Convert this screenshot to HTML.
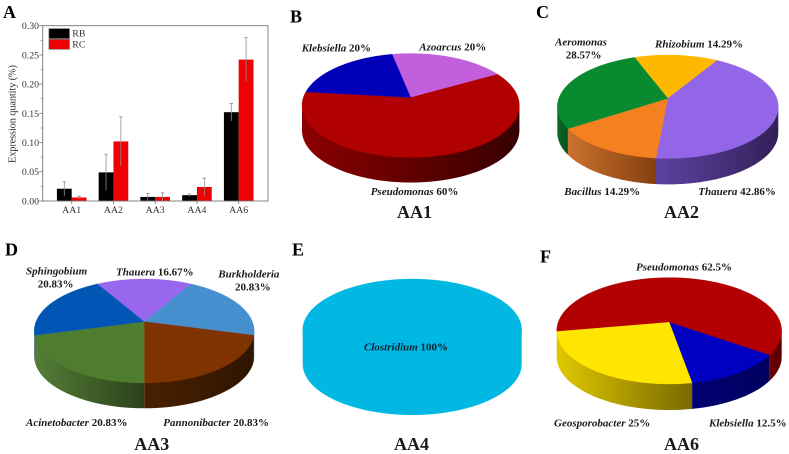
<!DOCTYPE html>
<html lang="en">
<head>
<meta charset="utf-8">
<title>Expression quantity and genus composition</title>
<style>
html,body{margin:0;padding:0;background:#fff;width:789px;height:454px;overflow:hidden}
svg{display:block;filter:blur(.35px)}
text{font-family:"Liberation Serif",serif}
.panel{font-size:18px;font-weight:bold;fill:#000}
.lab{font-size:11px;font-weight:bold;fill:#1a1a1a}
.lab .g{font-style:italic}
.title{font-size:18px;font-weight:bold;fill:#1a1a1a}
.tick{font-size:9.8px;fill:#333}
</style>
</head>
<body>
<svg id="figure" width="789" height="454" viewBox="0 0 789 454" xmlns="http://www.w3.org/2000/svg">
  <defs id="grads"></defs>
  <g id="bar-chart"></g>
  <g id="pies"></g>

  <text class="panel" x="3" y="18">A</text>
  <text class="panel" x="290" y="22.5">B</text>
  <text class="panel" x="536" y="18">C</text>
  <text class="panel" x="5" y="255.5">D</text>
  <text class="panel" x="292" y="255.5">E</text>
  <text class="panel" x="540" y="262.5">F</text>

  <text class="tick" x="0" y="0" transform="translate(15.5,163) rotate(-90)" style="font-size:10.5px" textLength="98">Expression quantity (%)</text>

  <text class="lab" x="301.7" y="51.7"><tspan class="g">Klebsiella</tspan> 20%</text>
  <text class="lab" x="419.3" y="50.7"><tspan class="g">Azoarcus</tspan> 20%</text>
  <text class="lab" x="370.7" y="195"><tspan class="g">Pseudomonas</tspan> 60%</text>
  <text class="title" x="397" y="218">AA1</text>

  <text class="lab" x="555" y="45.7"><tspan class="g">Aeromonas</tspan></text>
  <text class="lab" x="565.7" y="58.7">28.57%</text>
  <text class="lab" x="655" y="47.7"><tspan class="g">Rhizobium</tspan> 14.29%</text>
  <text class="lab" x="564.3" y="195"><tspan class="g">Bacillus</tspan> 14.29%</text>
  <text class="lab" x="698.3" y="195"><tspan class="g">Thauera</tspan> 42.86%</text>
  <text class="title" x="664" y="218">AA2</text>

  <text class="lab" x="26" y="274.3"><tspan class="g">Sphingobium</tspan></text>
  <text class="lab" x="37.7" y="287.3">20.83%</text>
  <text class="lab" x="116" y="275.7"><tspan class="g">Thauera</tspan> 16.67%</text>
  <text class="lab" x="218.3" y="277.7"><tspan class="g">Burkholderia</tspan></text>
  <text class="lab" x="235" y="290.7">20.83%</text>
  <text class="lab" x="26" y="426"><tspan class="g">Acinetobacter</tspan> 20.83%</text>
  <text class="lab" x="163.3" y="426"><tspan class="g">Pannonibacter</tspan> 20.83%</text>
  <text class="title" x="134.3" y="450">AA3</text>

  <text class="lab" x="364" y="350.3" style="fill:#0a2233"><tspan class="g">Clostridium</tspan> 100%</text>
  <text class="title" x="394" y="450">AA4</text>

  <text class="lab" x="636" y="270.7"><tspan class="g">Pseudomonas</tspan> 62.5%</text>
  <text class="lab" x="554" y="426.7"><tspan class="g">Geosporobacter</tspan> 25%</text>
  <text class="lab" x="709" y="426.7"><tspan class="g">Klebsiella</tspan> 12.5%</text>
  <text class="title" x="664" y="450">AA6</text>
</svg>
<script>
// ---------- Bar chart data ----------
const barCategories = ['AA1', 'AA2', 'AA3', 'AA4', 'AA6'];
const rbValues = [0.021, 0.049, 0.007, 0.010, 0.152];
const rcValues = [0.006, 0.102, 0.007, 0.024, 0.242];
const rbErrors = [0.012, 0.031, 0.006, 0.002, 0.015];
const rcErrors = [0.002, 0.042, 0.007, 0.015, 0.038];
const yTickLabels = ['0.00', '0.05', '0.10', '0.15', '0.20', '0.25', '0.30'];
const legendLabels = ['RB', 'RC'];

// ---------- Pie chart data (clockwise from the first slice) ----------
const aa1Genera = ['Azoarcus', 'Pseudomonas', 'Klebsiella'];
const aa1Shares = [20, 60, 20];
const aa2Genera = ['Rhizobium', 'Thauera', 'Bacillus', 'Aeromonas'];
const aa2Shares = [14.29, 42.86, 14.29, 28.57];
const aa3Genera = ['Thauera', 'Burkholderia', 'Pannonibacter', 'Acinetobacter', 'Sphingobium'];
const aa3Shares = [16.67, 20.83, 20.83, 20.83, 20.83];
const aa4Genera = ['Clostridium'];
const aa4Shares = [100];
const aa6Genera = ['Pseudomonas', 'Klebsiella', 'Geosporobacter'];
const aa6Shares = [62.5, 12.5, 25];

// ---------- Styles and layout ----------
const NS = 'http://www.w3.org/2000/svg';
const genusStyle = {
  aa1: {Azoarcus:['#C45FDC','#7a3a8a','#5a2a66'], Pseudomonas:['#B00000','#8C0000','#360000'], Klebsiella:['#0000B8','#00006e','#00004a']},
  aa2: {Rhizobium:['#FFB800','#a87a00','#806000'], Thauera:['#9366E8','#5E42A2','#332058'], Bacillus:['#F58020','#CC7230','#84400F'], Aeromonas:['#0A8A30','#0A6A28','#075020']},
  aa3: {Thauera:['#9966EE','#6a48a8','#4a3278'], Burkholderia:['#4790D0','#2f6a9a','#1f4a70'], Pannonibacter:['#7F3300','#4A2000','#2E1600'], Acinetobacter:['#4F7D30','#557E38','#2B421A'], Sphingobium:['#0055B5','#003c80','#002a5c']},
  aa4: {Clostridium:['#00B8E2','#00B8E2','#00B8E2']},
  aa6: {Pseudomonas:['#B30000','#700000','#580000'], Klebsiella:['#0000C0','#000070','#000060'], Geosporobacter:['#FFE600','#E0C800','#7A6A00']}
};

const figure = document.getElementById('figure');
const defs = document.getElementById('grads');
const barRoot = document.getElementById('bar-chart');
const pieRoot = document.getElementById('pies');

function make(parent, tag, attrs) {
  const el = document.createElementNS(NS, tag);
  for (const k in attrs) el.setAttribute(k, attrs[k]);
  parent.appendChild(el);
  return el;
}

// ---------- Bar chart ----------
const plot = {left: 42.7, right: 268, top: 25.7, bottom: 201, yMax: 0.30};
const firstCenter = 71.7, categoryStep = 41.75, barWidth = 14.8;
const yScale = v => plot.bottom - (v / plot.yMax) * (plot.bottom - plot.top);
const xScale = i => firstCenter + i * categoryStep;

function drawBar(value, err, x, color, name) {
  const top = yScale(value);
  const bar = make(barRoot, 'rect', {x: x, y: top, width: barWidth, height: plot.bottom - top, fill: color});
  
  
  const mid = x + barWidth / 2;
  const whisker = make(barRoot, 'path', {
    d: 'M' + mid + ' ' + yScale(value + err) + 'V' + yScale(Math.max(0, value - err)) +
       'M' + (mid - 1.7) + ' ' + yScale(value + err) + 'h3.4',
    stroke: '#8f8f8f', 'stroke-width': 0.8, fill: 'none'
  });
  
  
}

barCategories.forEach((cat, i) => {
  const c = xScale(i);
  drawBar(rbValues[i], rbErrors[i], c - barWidth, '#000000', 'bar-rb-' + cat.toLowerCase());
  drawBar(rcValues[i], rcErrors[i], c, '#F00000', 'bar-rc-' + cat.toLowerCase());
  const tick = make(barRoot, 'line', {x1: c, x2: c, y1: plot.bottom, y2: plot.bottom + 3, stroke: '#777', 'stroke-width': 0.8});
  
  
  const label = make(barRoot, 'text', {x: c, y: 213, 'text-anchor': 'middle', class: 'tick'});
  label.textContent = cat;
  
  
});

yTickLabels.forEach((t, i) => {
  const v = parseFloat(t);
  const y = yScale(v);
  const tick = make(barRoot, 'line', {x1: plot.left - 3.5, x2: plot.left, y1: y, y2: y, stroke: '#777', 'stroke-width': 0.8});
  
  
  const label = make(barRoot, 'text', {x: 39, y: y + 3.4, 'text-anchor': 'end', class: 'tick'});
  label.textContent = t;
  
  
  if (i < yTickLabels.length - 1) {
    const my = yScale(v + 0.025);
    const minor = make(barRoot, 'line', {x1: plot.left - 2, x2: plot.left, y1: my, y2: my, stroke: '#777', 'stroke-width': 0.7});
    
    
  }
});

const frame = make(barRoot, 'rect', {x: plot.left, y: plot.top, width: plot.right - plot.left, height: plot.bottom - plot.top, fill: 'none', stroke: '#777', 'stroke-width': 0.9});



legendLabels.forEach((name, i) => {
  const y = 28.6 + i * 10.7;
  const swatch = make(barRoot, 'rect', {x: 48.9, y: y, width: 20.6, height: 10, fill: i === 0 ? '#000' : '#F00000', stroke: '#777', 'stroke-width': 0.7});
  
  
  const label = make(barRoot, 'text', {x: 72.3, y: y + 8, class: 'tick'});
  label.textContent = name;
  
  
});

// ---------- Pies: a circle seen in perspective ----------
function projector(g) {
  const A = g.rx * Math.sqrt(1 - g.p * g.p);
  const B = g.ry * (1 - g.p * g.p);
  const apexY = g.cy - g.p * g.ry;
  return deg => {
    const t = deg * Math.PI / 180;
    const w = 1 + g.p * Math.cos(t);
    return [g.cx + A * Math.sin(t) / w, apexY - B * Math.cos(t) / w];
  };
}

function arcPoints(project, a, b) {
  const pts = [];
  const n = Math.max(2, Math.ceil(Math.abs(b - a) / 2));
  for (let i = 0; i <= n; i++) pts.push(project(a + (b - a) * i / n));
  return pts;
}

const fmt = pts => pts.map(q => q[0].toFixed(2) + ' ' + q[1].toFixed(2)).join('L');

function drawPie(id, genera, shares, g) {
  const project = projector(g);
  const styles = genusStyle[id];
  const total = shares.reduce((a, b) => a + b, 0);
  const group = make(pieRoot, 'g', {});
  
  
  const apex = [g.cx, g.cy - g.p * g.ry];
  const edge = Math.acos(-g.p) * 180 / Math.PI;
  const spans = [];
  let angle = g.start;
  shares.forEach(s => {
    const sweep = s / total * 360;
    spans.push([angle, angle + sweep]);
    angle += sweep;
  });
  spans.forEach((sp, i) => {
    const genus = genera[i];
    for (let k = -1; k <= 1; k++) {
      const a = Math.max(sp[0], edge + k * 360);
      const b = Math.min(sp[1], 360 - edge + k * 360);
      if (b <= a) continue;
      const gradId = 'wall-' + id + '-' + i + '-' + (k + 1);
      const grad = make(defs, 'linearGradient', {id: gradId, x1: 0, x2: 1, y1: 0, y2: 0});
      make(grad, 'stop', {offset: 0, 'stop-color': styles[genus][1]});
      make(grad, 'stop', {offset: 1, 'stop-color': styles[genus][2]});
      const rim = arcPoints(project, a, b);
      const top = rim.map(q => [q[0], q[1] - 1.5]);
      const low = rim.slice().reverse().map(q => [q[0], q[1] + g.depth]);
      const wall = make(group, 'path', {d: 'M' + fmt(top) + 'L' + fmt(low) + 'Z', fill: 'url(#' + gradId + ')'});
      
      
    }
  });
  spans.forEach((sp, i) => {
    const genus = genera[i];
    const slice = make(group, 'path', {
      d: 'M' + fmt([apex].concat(arcPoints(project, sp[0], sp[1]))) + 'Z',
      fill: styles[genus][0], stroke: styles[genus][0], 'stroke-width': 0.3
    });
    
    
  });
}

drawPie('aa1', aa1Genera, aa1Shares, {cx: 410.7, cy: 105.5, rx: 108.7, ry: 52, p: 0.154, depth: 25, start: -11.5});
drawPie('aa2', aa2Genera, aa2Shares, {cx: 667.8, cy: 106.7, rx: 110.5, ry: 51.7, p: 0.16, depth: 26, start: -20.5});
drawPie('aa3', aa3Genera, aa3Shares, {cx: 144.2, cy: 331, rx: 110, ry: 52, p: 0.18, depth: 25.3, start: -30});
drawPie('aa4', aa4Genera, aa4Shares, {cx: 412.2, cy: 330, rx: 109.5, ry: 51, p: 0, depth: 34, start: 0});
drawPie('aa6', aa6Genera, aa6Shares, {cx: 669.2, cy: 330.8, rx: 112.5, ry: 53.2, p: 0.16, depth: 26, start: -100});
</script>
</body>
</html>
